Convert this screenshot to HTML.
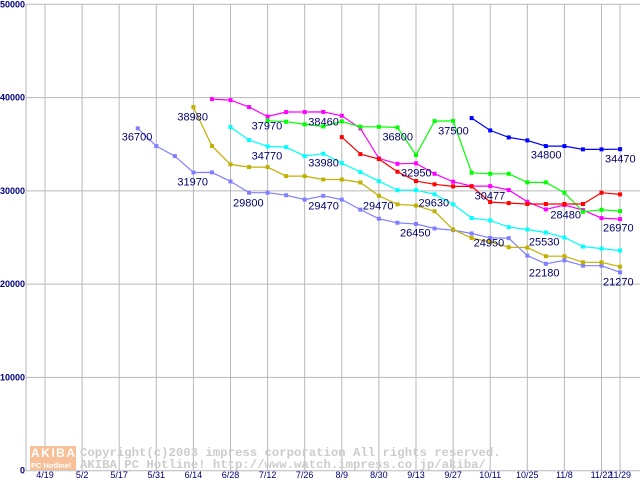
<!DOCTYPE html>
<html><head><meta charset="utf-8"><style>
body{margin:0;background:#fff;width:640px;height:480px;overflow:hidden}
svg text{font-family:"Liberation Sans",sans-serif}
svg text.mono{font-family:"Liberation Mono",monospace}
</style></head><body>
<svg id="chart" width="640" height="480" xmlns="http://www.w3.org/2000/svg">
<g id="grid"></g><g id="wm"></g><g id="series"></g><g id="labels"></g>
</svg>
<script>
const xLabels=["4/19","5/2","5/17","5/31","6/14","6/28","7/12","7/26","8/9","8/30","9/13","9/27","10/11","10/25","11/8","11/22","11/29"];
const yTicks=[0,10000,20000,30000,40000,50000];
const sLavender=[null,null,null,null,null,36700,34800,33730,31970,31980,31010,29800,29800,29530,29060,29470,29060,27990,27010,26580,26450,25970,25790,25430,24960,24930,23060,22180,22550,21980,21980,21270];
const sOlive=[null,null,null,null,null,null,null,null,38980,34800,32840,32550,32550,31580,31580,31220,31220,30900,29470,28560,28420,27810,25860,24950,24530,23960,23920,22990,22990,22340,22340,21870];
const sCyan=[null,null,null,null,null,null,null,null,null,null,36840,35440,34770,34690,33730,33980,32980,32010,31040,30070,30070,29630,28560,27090,26830,26110,25860,25530,25000,24030,23810,23600];
const sMagenta=[null,null,null,null,null,null,null,null,null,39840,39730,38980,37970,38450,38450,38460,38050,36700,33480,32900,32950,31830,30980,30510,30510,30090,28830,28010,28480,27940,27080,26970];
const sGreen=[null,null,null,null,null,null,null,null,null,null,null,null,37520,37410,37130,36910,37450,36870,36870,36800,33840,37480,37500,31940,31830,31830,30910,30910,29800,27760,27970,27830];
const sRed=[null,null,null,null,null,null,null,null,null,null,null,null,null,null,null,null,35760,33940,33410,32050,31050,30700,30480,30477,28800,28690,28590,28590,28590,28590,29800,29620];
const sBlue=[null,null,null,null,null,null,null,null,null,null,null,null,null,null,null,null,null,null,null,null,null,null,null,37800,36480,35730,35410,34800,34800,34450,34450,34470];
const labelTexts=["36700","38980","31970","37970","34770","29800","38460","33980","29470","36800","37500","32950","30477","29630","29470","34800","34470","28480","26450","24950","25530","22180","26970","21270"];
const labelIdx=[5,8,8,12,12,11,15,15,15,19,22,20,23,21,18,27,31,28,20,23,27,27,31,31];
const labelVals=[36700,38980,31970,37970,34770,29800,38460,33980,29470,36800,37500,32950,30477,29630,29470,34800,34470,28480,26450,24950,25530,22180,26970,21270];
const NS="http://www.w3.org/2000/svg";
const xs=i=>45+i*18.55;
const ys=v=>470.7-v*0.009328;
function mk(t,a,p){const e=document.createElementNS(NS,t);for(const k in a)e.setAttribute(k,a[k]);p.appendChild(e);return e;}
const grid=document.getElementById('grid');
yTicks.forEach(v=>{
 const l=mk('line',{x1:26,x2:640,y1:ys(v),y2:ys(v),stroke:'#b8b8b8','stroke-width':1},grid);
 
 
 const t=mk('text',{x:25,y:ys(v)+3,'text-anchor':'end','font-size':9,'font-weight':'bold',fill:'#000080'},grid);
 t.textContent=v;
 
 
});
mk('line',{x1:26,x2:26,y1:4,y2:471,stroke:'#b8b8b8'},grid);
xLabels.forEach((s,k)=>{
 const x=k<16?45+k*37.1:xs(31);
 const l=mk('line',{x1:x,x2:x,y1:4,y2:471,stroke:'#b8b8b8'},grid);
 
 
 const t=mk('text',{x:x,y:478,'text-anchor':'middle','font-size':9,fill:'#000080'},grid);
 t.textContent=s;
 
 
});
const wm=document.getElementById('wm');
const r=mk('rect',{x:30,y:446,width:46,height:24,fill:'#f8c098'},wm);


const t1=mk('text',{x:31,y:457,'font-size':12,'font-weight':'bold',fill:'#fff','letter-spacing':'1.5'},wm);t1.textContent='AKIBA';


const t2=mk('text',{x:31,y:468,'font-size':7.5,'font-weight':'bold',fill:'#fff'},wm);t2.textContent='PC Hotline!';


const c1=mk('text',{x:80,y:456,'font-size':12.3,'font-weight':'bold',fill:'#cccccc','class':'mono'},wm);c1.textContent='Copyright(c)2003 impress corporation All rights reserved.';


const c2=mk('text',{x:80,y:468,'font-size':12.3,'font-weight':'bold',fill:'#cccccc','class':'mono'},wm);c2.textContent='AKIBA PC Hotline!  http://www.watch.impress.co.jp/akiba/';


const series=[[sLavender,'#8080ff','lavender'],[sOlive,'#c0b000','olive'],[sCyan,'#00ffff','cyan'],[sMagenta,'#ff00ff','magenta'],[sGreen,'#00ff00','green'],[sRed,'#ff0000','red'],[sBlue,'#0000ff','blue']];
const sg=document.getElementById('series');
series.forEach(([d,c,n])=>{
 const g=mk('g',{},sg);
 
 
 const pts=[];d.forEach((v,i)=>{if(v!=null)pts.push(xs(i).toFixed(1)+','+ys(v).toFixed(1));});
 mk('polyline',{points:pts.join(' '),fill:'none',stroke:c,'stroke-width':1.2},g);
 d.forEach((v,i)=>{if(v==null)return;
  const m=mk('rect',{x:xs(i)-2,y:ys(v)-2,width:4,height:4,fill:c},g);
  
  
 });
});
const offs=[[-16,7.6],[-16,9],[-16,8.5],[-16,8.5],[-16,8.6],[-16,9.3],[-15,9],[-15,8.3],[-15,9.2],[-15,8.6],[-15,9],[-15,8.6],[3,8.6],[-16,7.7],[-16,9.2],[-15,7.9],[-15,8.8],[-14,9],[-16,8],[2,4],[-17,8.4],[-17,8.2],[-17,7.9],[-17,8.7]];
const lg=document.getElementById('labels');
labelTexts.forEach((s,k)=>{
 const t=mk('text',{x:xs(labelIdx[k])+offs[k][0],y:ys(labelVals[k])+offs[k][1]+4.5,'font-size':11,fill:'#000070'},lg);
 t.textContent=s;
 
 
});
</script>
</body></html>
